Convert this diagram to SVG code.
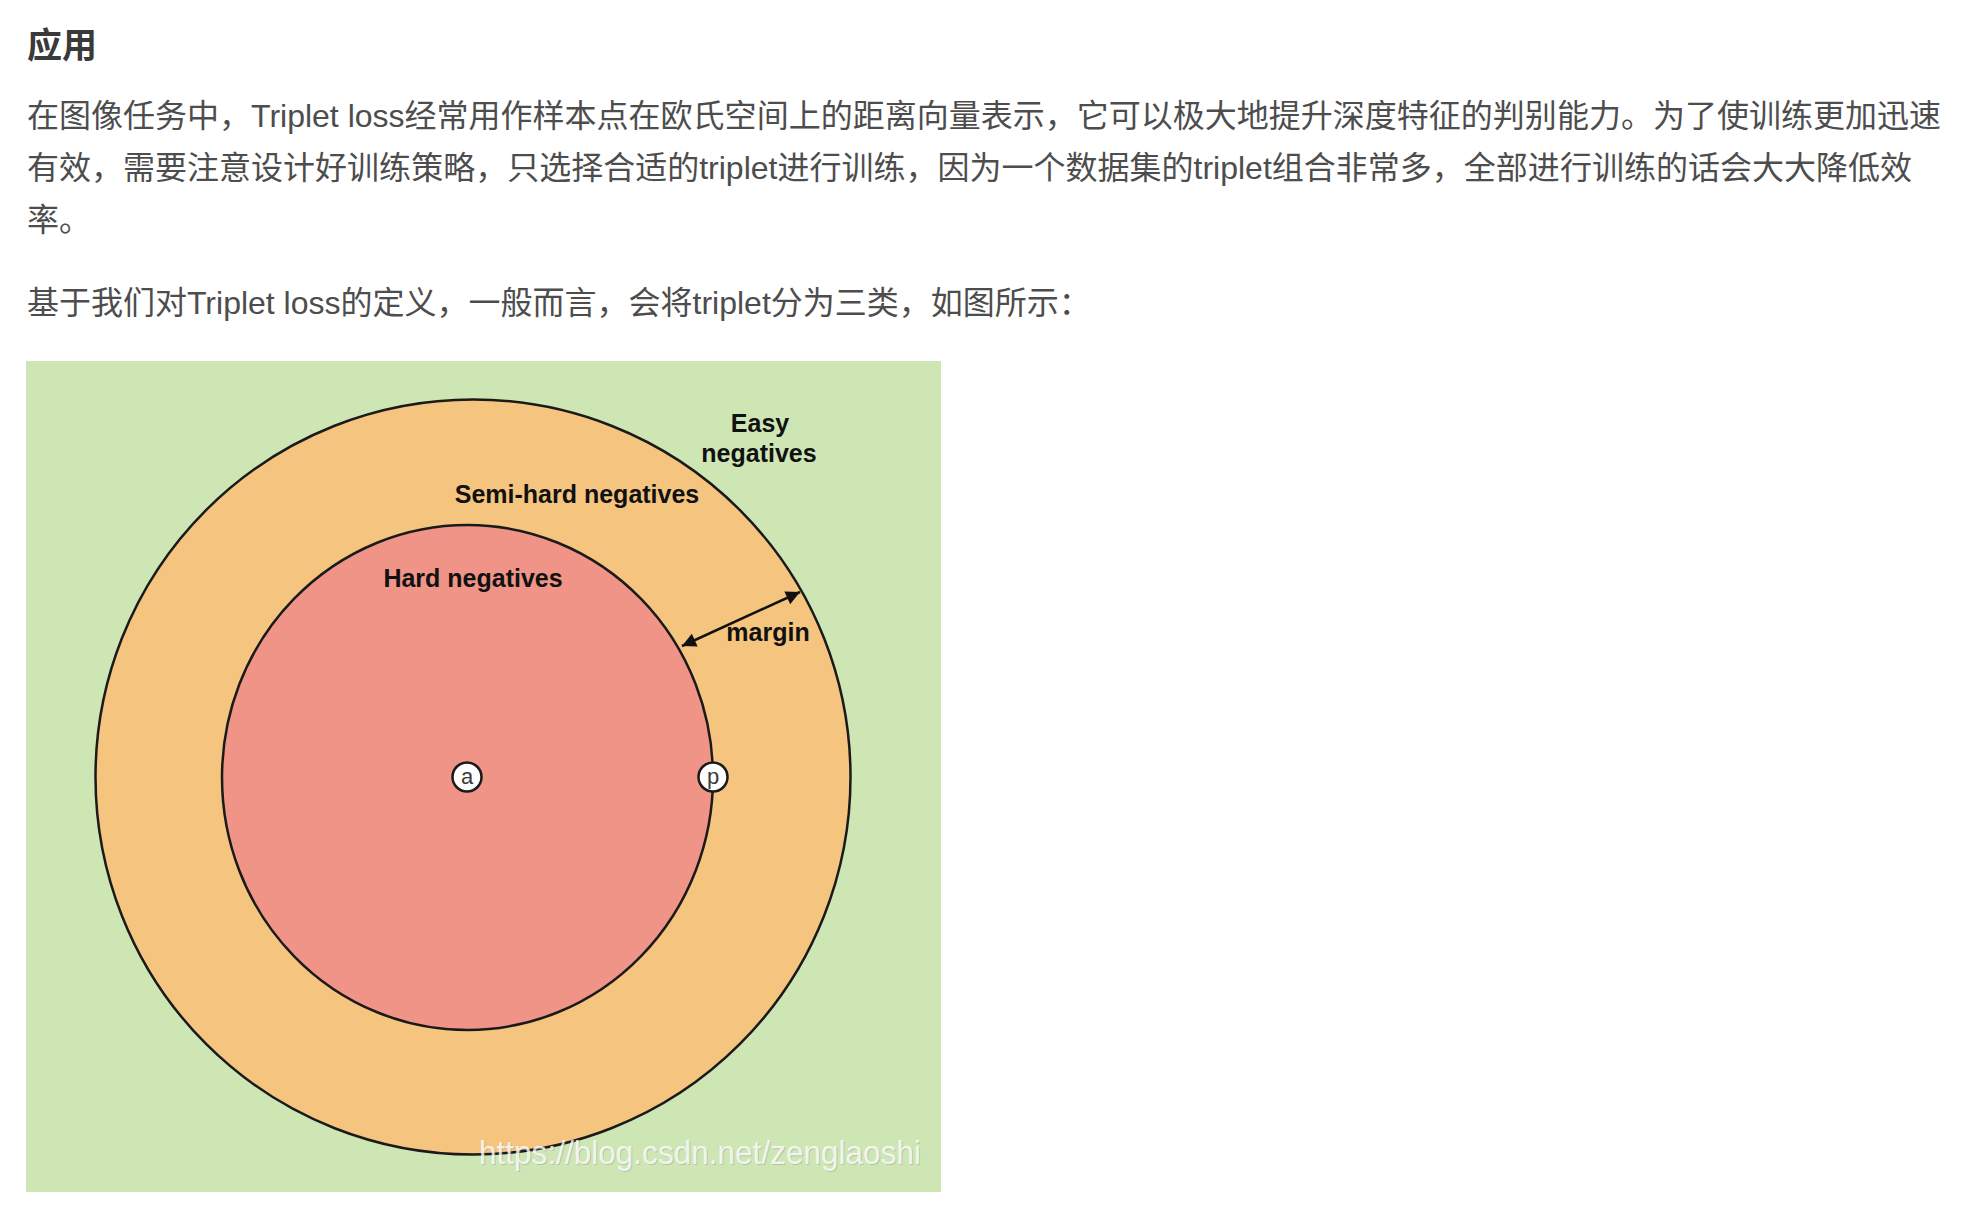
<svg xmlns="http://www.w3.org/2000/svg" width="1968" height="1210" viewBox="0 0 1968 1210">
  <style>
    .title { font-family: "Liberation Sans", "Noto Sans CJK SC", sans-serif; font-size: 35px; font-weight: bold; fill: #3a3a3a; }
    .para { font-family: "Liberation Sans", "Noto Sans CJK SC", sans-serif; font-size: 32px; fill: #4d4d4d; }
    .lbl { font-family: "Liberation Sans", Arial, sans-serif; font-size: 25px; font-weight: bold; fill: #111111; text-anchor: middle; }
    .pt { fill: #ffffff; stroke: #1a1a1a; stroke-width: 2.5; }
    .ptxt { font-family: "Liberation Sans", Arial, sans-serif; font-size: 22px; fill: #3a3a3a; text-anchor: middle; }
    .ring { stroke: #1a1a1a; stroke-width: 2.5; }
    .wm { font-family: "Liberation Sans", Arial, sans-serif; font-size: 33px; }
  </style>
  <defs>
    <marker id="ah2" viewBox="0 0 10 10" refX="10" refY="5" markerWidth="24" markerHeight="14" markerUnits="userSpaceOnUse" orient="auto-start-reverse">
      <path d="M0,0 L10,5 L0,10 z" fill="#111111"/>
    </marker>
  </defs>
  <rect x="0" y="0" width="1968" height="1210" fill="#ffffff"/>

  <g id="text">
    <text class="title" x="27" y="58">应用</text>
    <text class="para" x="27" y="127" textLength="1914" lengthAdjust="spacing">在图像任务中，Triplet loss经常用作样本点在欧氏空间上的距离向量表示，它可以极大地提升深度特征的判别能力。为了使训练更加迅速</text>
    <text class="para" x="27" y="179" textLength="1885" lengthAdjust="spacing">有效，需要注意设计好训练策略，只选择合适的triplet进行训练，因为一个数据集的triplet组合非常多，全部进行训练的话会大大降低效</text>
    <text class="para" x="27" y="231">率。</text>
    <text class="para" x="27" y="314">基于我们对Triplet loss的定义，一般而言，会将triplet分为三类，如图所示：</text>
  </g>

  <g id="figure">
    <rect id="easy-region" x="26" y="361" width="915" height="831" fill="#cee6b4"/>
    <g id="semi-hard-region">
      <circle class="ring" cx="473" cy="777" r="377.5" fill="#f5c47f"/>
    </g>
    <g id="hard-region">
      <ellipse class="ring" cx="467.5" cy="777.5" rx="245.5" ry="252.5" fill="#f09487"/>
    </g>
    <g id="node-a">
      <circle class="pt" cx="467" cy="777" r="14.5"/>
      <text class="ptxt" x="467" y="784">a</text>
    </g>
    <g id="node-p">
      <circle class="pt" cx="713" cy="777" r="14.5"/>
      <text class="ptxt" x="713" y="784">p</text>
    </g>
    <g id="labels">
      <text class="lbl" x="760" y="432">Easy</text>
      <text class="lbl" x="759" y="462">negatives</text>
      <text class="lbl" x="577" y="503">Semi-hard negatives</text>
      <text class="lbl" x="473" y="587">Hard negatives</text>
      <text class="lbl" x="768" y="641">margin</text>
    </g>
  </g>

  <g id="connectors">
    <line x1="682" y1="646" x2="800" y2="592" stroke="#111111" stroke-width="2.5" marker-start="url(#ah2)" marker-end="url(#ah2)"/>
  </g>

  <g id="watermark">
    <text class="wm" x="480" y="1165" fill="#888888" fill-opacity="0.35" textLength="442" lengthAdjust="spacingAndGlyphs">https://blog.csdn.net/zenglaoshi</text>
    <text class="wm" x="479" y="1164" fill="#ffffff" fill-opacity="0.8" textLength="442" lengthAdjust="spacingAndGlyphs">https://blog.csdn.net/zenglaoshi</text>
  </g>
</svg>
